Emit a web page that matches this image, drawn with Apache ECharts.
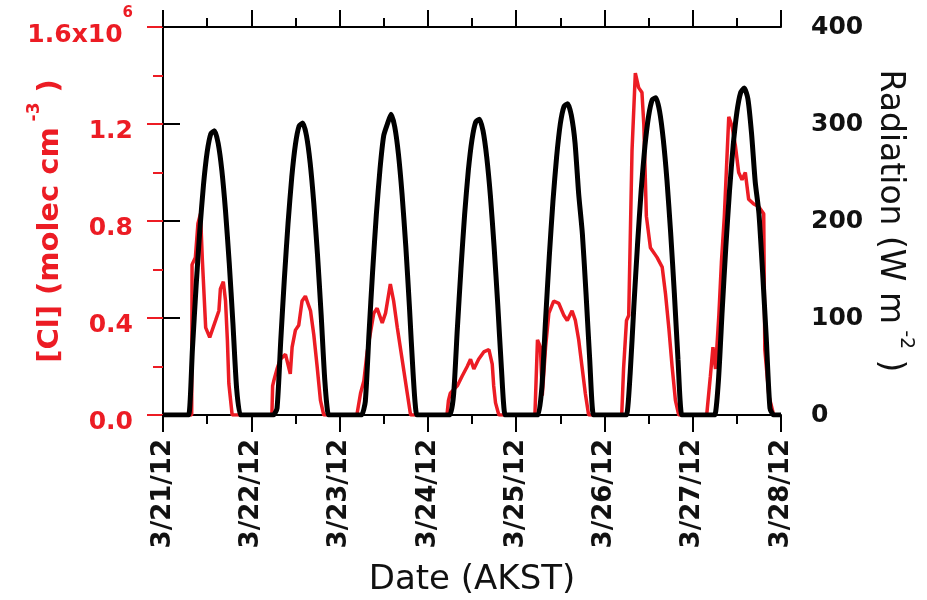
<!DOCTYPE html>
<html>
<head>
<meta charset="utf-8">
<title>[Cl] and radiation, 3/21/12 - 3/28/12</title>
<script src="https://cdn.jsdelivr.net/npm/echarts@6/dist/echarts.min.js"></script>
<style>
    html, body { margin: 0; padding: 0; background: #fff; }
    #chart { width: 927px; height: 600px; }
</style>
</head>
<body>
<div id="chart"></div>
<script>
/* tick labels */
var xTickLabels = ['3/21/12', '3/22/12', '3/23/12', '3/24/12', '3/25/12', '3/26/12', '3/27/12', '3/28/12'];
var clTickLabels = ['0.0', '0.4', '0.8', '1.2', '1.6x10'];

/* [Cl] (1e6 molec cm-3), hours since 3/21/12 00:00 AKST, one line per day */
var clHours = [
    0, 7.8, 7.9, 8.8, 9.5, 10.2, 10.7, 11.6, 12.7, 14.3, 15.2, 15.6, 16.4, 17.0, 17.5, 17.9, 18.8,
    29.6, 29.8, 30.1, 31.0, 31.9, 33.3, 34.6, 35.1, 36.0, 36.9, 37.8, 38.7, 40.1, 41.0, 41.9, 42.8, 43.7,
    52.7, 53.7, 54.6, 55.5, 56.4, 57.3, 58.2, 59.6, 60.5, 61.8, 62.7, 63.7, 65.0, 66.4, 67.3,
    77.2, 77.6, 78.1, 80.0, 81.3, 82.7, 83.6, 84.5, 85.8, 87.2, 88.6, 89.5, 89.9, 90.4, 91.3,
    101.1, 101.8, 102.6, 103.1, 104.0, 104.9, 106.2, 107.6, 109.0, 109.9, 111.2, 112.1, 113.0, 113.9, 114.8, 115.7,
    124.7, 125.2, 126.0, 126.6, 127.5, 128.4, 129.3, 130.2, 130.7, 131.4, 132.5, 134.3, 135.7, 136.6, 137.5, 138.4, 139.3, 140.2,
    147.8, 148.8, 149.5, 150.2, 151.1, 151.8, 152.6, 153.8, 154.7, 155.6, 156.5, 157.4, 158.3, 159.2, 160.6, 161.9, 163.3, 163.6, 164.7, 166.0, 168
];
var clValues = [
    0, 0, 0.62, 0.65, 0.79, 0.83, 0.64, 0.36, 0.32, 0.39, 0.43, 0.52, 0.55, 0.47, 0.31, 0.13, 0,
    0, 0.12, 0.14, 0.19, 0.23, 0.25, 0.17, 0.28, 0.35, 0.37, 0.47, 0.49, 0.43, 0.33, 0.20, 0.06, 0,
    0, 0.09, 0.14, 0.26, 0.34, 0.42, 0.44, 0.38, 0.42, 0.54, 0.47, 0.36, 0.23, 0.09, 0,
    0, 0.06, 0.09, 0.12, 0.16, 0.20, 0.23, 0.19, 0.23, 0.26, 0.27, 0.21, 0.12, 0.05, 0,
    0, 0.31, 0.28, 0.08, 0.28, 0.42, 0.47, 0.46, 0.41, 0.39, 0.43, 0.39, 0.31, 0.20, 0.09, 0,
    0, 0.19, 0.39, 0.41, 1.09, 1.41, 1.35, 1.33, 1.20, 0.82, 0.69, 0.65, 0.61, 0.50, 0.36, 0.20, 0.06, 0,
    0, 0.16, 0.28, 0.19, 0.41, 0.63, 0.82, 1.23, 1.19, 1.11, 1.00, 0.97, 1.00, 0.89, 0.87, 0.86, 0.83, 0.27, 0.08, 0, 0
];

/* radiation (W m-2), hourly, 00:00 .. 23:00 of each day */
var radDay1 = [0, 0, 0, 0, 0, 0, 0, 0, 68, 133, 190, 237, 271, 290, 293, 280, 252, 210, 157, 95, 28, 0, 0, 0];
var radDay2 = [0, 0, 0, 0, 0, 0, 0, 7, 76, 141, 198, 245, 279, 298, 301, 288, 260, 218, 165, 103, 35, 0, 0, 0];
var radDay3 = [0, 0, 0, 0, 0, 0, 0, 14, 84, 149, 207, 254, 288, 300, 310, 297, 269, 227, 174, 111, 42, 0, 0, 0];
var radDay4 = [0, 0, 0, 0, 0, 0, 0, 21, 88, 151, 207, 252, 284, 302, 305, 293, 266, 226, 174, 114, 48, 0, 0, 0];
var radDay5 = [0, 0, 0, 0, 0, 0, 0, 29, 98, 163, 220, 266, 300, 318, 321, 309, 281, 228, 187, 125, 57, 0, 0, 0];
var radDay6 = [0, 0, 0, 0, 0, 0, 0, 43, 112, 176, 232, 277, 308, 325, 327, 313, 284, 242, 188, 126, 57, 0, 0, 0];
var radDay7 = [0, 0, 0, 0, 0, 0, 0, 36, 107, 173, 231, 278, 312, 332, 337, 326, 290, 240, 208, 147, 79, 7, 0, 0];
var radDays = [radDay1, radDay2, radDay3, radDay4, radDay5, radDay6, radDay7];

var RED = '#ec1c24';
var FONT = "'DejaVu Sans', sans-serif";

// build [x, y] pairs
var clData = [];
for (var i = 0; i < clHours.length; i++) clData.push([clHours[i], clValues[i]]);

var radData = [];
for (var d = 0; d < radDays.length; d++)
    for (var h = 0; h < 24; h++) radData.push([d * 24 + h, radDays[d][h]]);
radData.push([168, 0]);

function timeAxis(pos) {
    return {
        type: 'value', position: pos, min: 0, max: 168, interval: 24,
        axisLine: { show: true, onZero: false, lineStyle: { color: '#000', width: 2 } },
        axisTick: { show: true, inside: false, length: 17, lineStyle: { color: '#000', width: 2 } },
        minorTick: { show: true, splitNumber: 2, length: 9, lineStyle: { color: '#000', width: 2 } },
        splitLine: { show: false },
        minorSplitLine: { show: false },
        axisLabel: { show: false }
    };
}

var bottomAxis = timeAxis('bottom');
bottomAxis.axisLabel = {
    show: true, rotate: 90, margin: 24, showMinLabel: true, showMaxLabel: true,
    color: '#111', fontFamily: FONT, fontWeight: 'bold', fontSize: 26,
    formatter: function (v) { return xTickLabels[Math.round(v / 24)]; }
};
bottomAxis.name = 'Date (AKST)';
bottomAxis.nameLocation = 'middle';
bottomAxis.nameGap = 148;
bottomAxis.nameMoveOverlap = false;
bottomAxis.nameTextStyle = { color: '#111', fontFamily: FONT, fontSize: 34 };

var topAxis = timeAxis('top');

// superscripts: the base text sits at the bottom of a tall line, the small text at its top
var chart = echarts.init(document.getElementById('chart'));
chart.setOption({
    animation: false,
    backgroundColor: '#fff',
    grid: { left: 163, right: 146, top: 27, bottom: 185, containLabel: false, outerBoundsMode: 'none' },
    xAxis: [bottomAxis, topAxis],
    yAxis: [
        {
            type: 'value', position: 'left', min: 0, max: 1.6, interval: 0.4,
            axisLine: { show: true, lineStyle: { color: RED, width: 1.5 } },
            axisTick: { show: true, length: 16, lineStyle: { color: RED, width: 2 } },
            minorTick: { show: true, splitNumber: 2, length: 10, lineStyle: { color: RED, width: 2 } },
            splitLine: { show: false },
            axisLabel: {
                margin: 30, color: RED, fontFamily: FONT, fontWeight: 'bold', fontSize: 25,
                formatter: function (v) {
                    var k = Math.round(v / 0.4);
                    return k === 4 ? '{b|' + clTickLabels[k] + '}{s|6}' : '{c|' + clTickLabels[k] + '}';
                },
                rich: {
                    b: { color: RED, fontFamily: FONT, fontWeight: 'bold', fontSize: 25, verticalAlign: 'bottom', lineHeight: 42 },
                    c: { color: RED, fontFamily: FONT, fontWeight: 'bold', fontSize: 25, verticalAlign: 'bottom', lineHeight: 40 },
                    s: { color: RED, fontFamily: FONT, fontWeight: 'bold', fontSize: 15, verticalAlign: 'top' }
                }
            },
            name: '{t|[Cl] (molec cm}{s| -3}{t| )}',
            nameLocation: 'middle', nameRotate: 90, nameGap: 98, nameMoveOverlap: false,
            nameTextStyle: {
                color: RED,
                rich: {
                    t: { color: RED, fontFamily: FONT, fontWeight: 'bold', fontSize: 29, verticalAlign: 'bottom', lineHeight: 39 },
                    s: { color: RED, fontFamily: FONT, fontWeight: 'bold', fontSize: 17, verticalAlign: 'top' }
                }
            }
        },
        {
            type: 'value', position: 'right', min: 0, max: 400, interval: 100,
            axisLine: { show: true, lineStyle: { color: '#000', width: 2 } },
            axisTick: { show: true, length: 17, lineStyle: { color: '#000', width: 2 } },
            splitLine: { show: false },
            axisLabel: { margin: 30, color: '#111', fontFamily: FONT, fontWeight: 'bold', fontSize: 25 },
            name: '{t|Radiation (W m}{s| -2}{t| )}',
            nameLocation: 'middle', nameRotate: -90, nameGap: 92, nameMoveOverlap: false,
            nameTextStyle: {
                color: '#111',
                rich: {
                    t: { color: '#111', fontFamily: FONT, fontSize: 33, verticalAlign: 'bottom', lineHeight: 42 },
                    s: { color: '#111', fontFamily: FONT, fontSize: 19, verticalAlign: 'top' }
                }
            }
        }
    ],
    series: [
        {
            name: '[Cl]', type: 'line', xAxisIndex: 0, yAxisIndex: 0,
            data: clData, showSymbol: false, symbol: 'none',
            lineStyle: { color: RED, width: 3.5 }, itemStyle: { color: RED }, z: 2
        },
        {
            name: 'Radiation', type: 'line', xAxisIndex: 0, yAxisIndex: 1,
            data: radData, showSymbol: false, symbol: 'none', smooth: 0.2,
            lineStyle: { color: '#000', width: 5 }, itemStyle: { color: '#000' }, z: 3
        }
    ]
});
</script>
</body>
</html>
